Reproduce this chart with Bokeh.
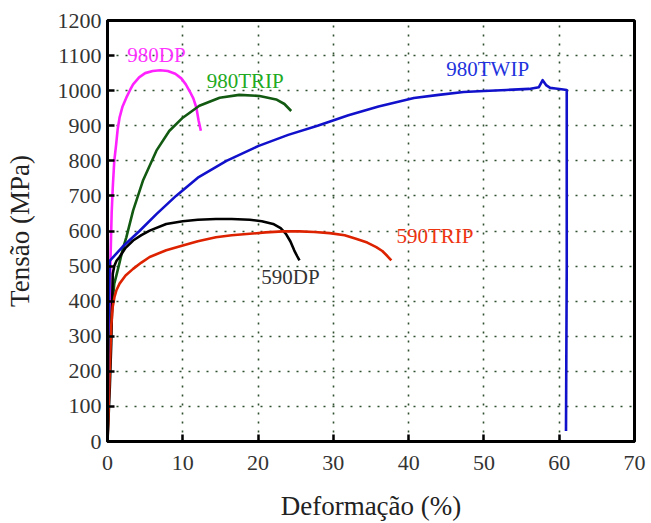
from bokeh.plotting import figure
from bokeh.models import FixedTicker, ColumnDataSource
from bokeh.core.properties import value
from bokeh.embed import file_html
from bokeh.resources import INLINE

# Data (strain %, stress MPa)
dp980_x = [0, 0.2, 0.4, 0.55, 0.7, 0.9, 1.15, 1.35, 1.6, 2.0, 2.5, 3.0, 3.4, 4.2, 5.0, 6.0, 7.0, 8.0, 9.0, 9.8, 10.4, 10.9, 11.4, 11.8, 12.1, 12.4]
dp980_y = [0, 250, 520, 650, 724, 800, 847, 890, 923, 955, 980, 1002, 1018, 1038, 1050, 1056, 1058, 1056, 1048, 1035, 1018, 999, 978, 952, 915, 886]

trip980_x = [0, 0.2, 0.4, 0.6, 0.9, 1.2, 1.6, 2.0, 2.5, 3.4, 4.7, 6.5, 8.2, 10.0, 12.2, 14.9, 17.5, 20.2, 22.4, 23.5, 24.4]
trip980_y = [0, 180, 300, 380, 450, 475, 510, 546, 582, 658, 743, 829, 885, 923, 957, 980, 988, 985, 975, 962, 942]

twip980_x = [0, 0.1, 0.3, 2, 4.25, 6.5, 9.1, 12, 15.8, 20, 24, 27.9, 32, 36, 40.7, 44, 47.3, 50, 53, 56, 57.3, 57.8, 58.3, 58.8, 59.5, 60.3, 61.0, 61.0, 60.9]
twip980_y = [0, 300, 515, 555, 600, 648, 700, 752, 800, 842, 874, 900, 930, 955, 979, 988, 996, 999, 1002, 1005, 1010, 1030, 1015, 1008, 1006, 1004, 1002, 500, 30]

dp590_x = [0, 0.3, 0.5, 0.6, 0.7, 0.9, 1.2, 1.6, 2.4, 3.4, 4.5, 5.6, 7.8, 10, 12, 14.4, 16.5, 18.9, 20.5, 22, 23, 23.7, 24.3, 24.8, 25.2, 25.5]
dp590_y = [0, 150, 280, 380, 478, 500, 515, 526, 552, 573, 588, 601, 620, 628, 632, 634, 634, 632, 628, 620, 608, 592, 570, 545, 528, 516]

trip590_x = [0, 0.3, 0.5, 0.7, 0.93, 1.2, 1.6, 2.4, 3.4, 4.5, 5.6, 7.8, 10, 12, 14.4, 16.5, 18.9, 21, 23.3, 25.5, 27.5, 29.5, 31.5, 33, 34.5, 35.7, 36.5, 37.2, 37.7]
trip590_y = [0, 200, 330, 385, 412, 432, 450, 473, 492, 510, 526, 545, 559, 571, 582, 588, 592, 596, 599, 599, 597, 594, 588, 578, 567, 554, 543, 528, 516]

label_text = ["980DP", "980TRIP", "980TWIP", "590TRIP", "590DP"]
label_x = [6.5, 18.3, 50.5, 43.5, 24.3]
label_y = [1101, 1027, 1061, 586, 470]
label_color = ["#ff33ff", "#22aa22", "#2233dd", "#ee3311", "#333333"]

x_ticks = [0, 10, 20, 30, 40, 50, 60, 70]
y_ticks = [0, 100, 200, 300, 400, 500, 600, 700, 800, 900, 1000, 1100, 1200]

SERIF = "'Liberation Serif', serif"

p = figure(width=651, height=523, x_range=(0, 70), y_range=(0, 1200),
           output_backend="svg", toolbar_location=None,
           min_border_left=107, min_border_right=17, min_border_top=20, min_border_bottom=79,
           x_axis_label="Deformação (%)", y_axis_label="Tensão (MPa)")

p.background_fill_color = "white"
p.border_fill_color = "white"
p.outline_line_color = "black"
p.outline_line_width = 3

for ax in (p.xaxis[0], p.yaxis[0]):
    ax.axis_line_color = "black"
    ax.axis_line_width = 3
    ax.major_tick_in = 7
    ax.major_tick_out = 0
    ax.major_tick_line_width = 2.5
    ax.minor_tick_line_color = None
    ax.major_label_text_font = SERIF
    ax.major_label_text_font_size = "22px"
    ax.major_label_text_color = "#333333"
    ax.axis_label_text_font = SERIF
    ax.axis_label_text_font_size = "27px"
    ax.axis_label_text_font_style = "normal"
    ax.axis_label_text_color = "#222222"

p.xaxis.ticker = FixedTicker(ticks=x_ticks)
p.yaxis.ticker = FixedTicker(ticks=y_ticks)
p.xaxis.major_label_standoff = 14
p.yaxis.major_label_standoff = 6
p.xaxis.axis_label_standoff = 18
p.yaxis.axis_label_standoff = 20

p.xgrid.ticker = FixedTicker(ticks=x_ticks)
p.ygrid.ticker = FixedTicker(ticks=y_ticks)
for g in (p.xgrid[0], p.ygrid[0]):
    g.grid_line_color = "#2f4f2f"
    g.grid_line_width = 1.6
    g.grid_line_dash = "2 7"

lw = 2.6
p.line(dp980_x, dp980_y, line_color="#ff22ff", line_width=lw, line_join="round")
p.line(trip980_x, trip980_y, line_color="#125a12", line_width=lw, line_join="round")
p.line(dp590_x, dp590_y, line_color="#000000", line_width=lw, line_join="round")
p.line(trip590_x, trip590_y, line_color="#dd2200", line_width=lw, line_join="round")
p.line(twip980_x, twip980_y, line_color="#1111cc", line_width=lw, line_join="round")

src = ColumnDataSource(dict(x=label_x, y=label_y, t=label_text, c=label_color))
p.text(x="x", y="y", text="t", text_color="c", source=src,
       text_font=value(SERIF), text_font_size="21px",
       text_align="center", text_baseline="middle")

open("out.html", "w").write(file_html(p, INLINE))
